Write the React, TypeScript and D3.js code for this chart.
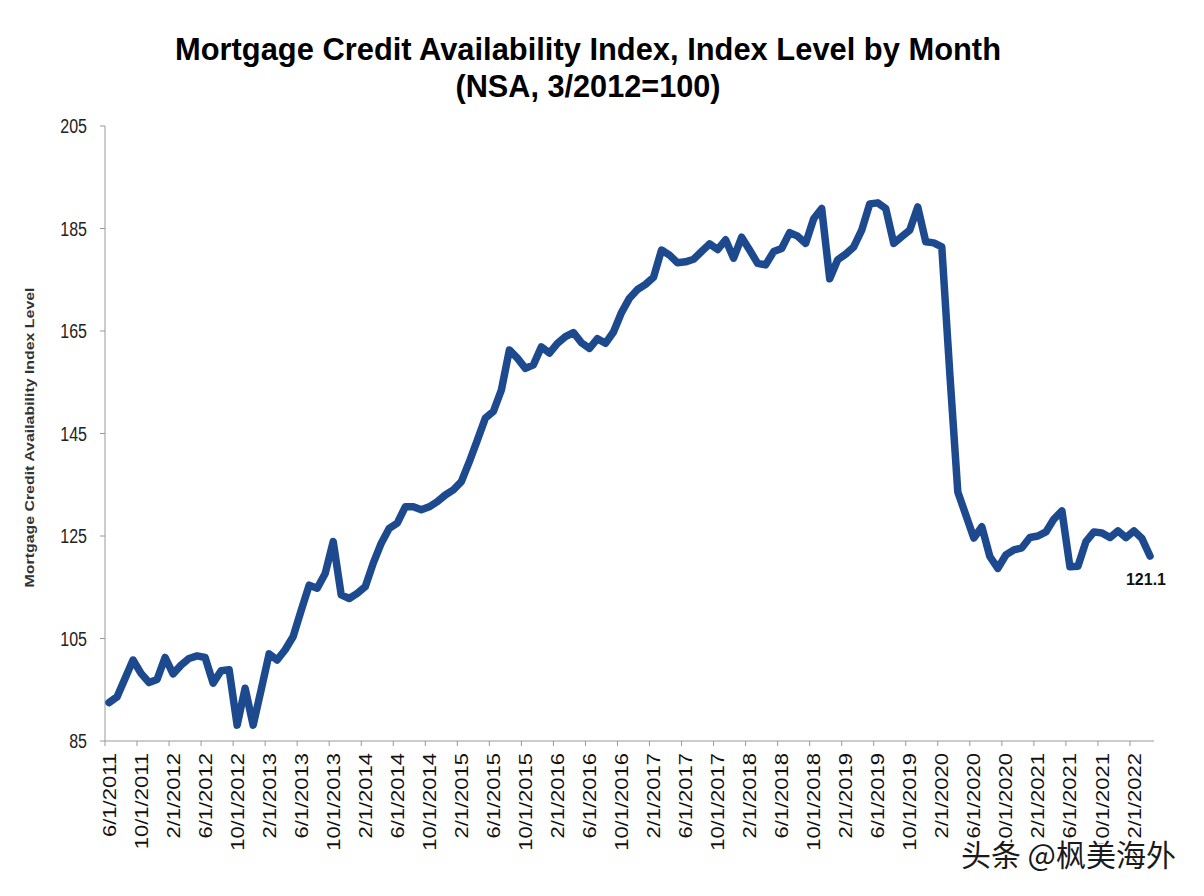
import React from "react";
import * as d3 from "d3";

const width = 1204;
const height = 896;
const margin = { top: 126, right: 50, bottom: 155, left: 105 };
const innerWidth = width - margin.left - margin.right;
const innerHeight = height - margin.top - margin.bottom;

// monthly index values, 6/2011 .. 4/2022
const mcai = [
  92.5, 93.6, 97.2, 100.8, 98.2, 96.4, 97.0, 101.3, 98.1, 99.8, 101.1, 101.6,
  101.3, 96.3, 98.7, 98.9, 88.1, 95.3, 88.1, 95.0, 102.0, 100.8, 102.8, 105.4,
  110.5, 115.4, 114.8, 117.7, 123.9, 113.5, 112.8, 113.8, 115.1, 119.7, 123.6, 126.5,
  127.5, 130.7, 130.7, 130.1, 130.7, 131.7, 133.0, 134.0, 135.6, 139.5, 143.7, 148.0,
  149.3, 153.5, 161.3, 159.7, 157.7, 158.4, 161.9, 160.7, 162.6, 163.9, 164.7, 162.7,
  161.6, 163.5, 162.6, 164.8, 168.6, 171.4, 173.1, 174.1, 175.5, 180.8, 179.8, 178.3,
  178.5, 179.0, 180.5, 182.0, 180.9, 182.8, 179.2, 183.3, 180.8, 178.2, 177.9, 180.5,
  181.1, 184.2, 183.5, 182.1, 186.9, 188.9, 175.2, 178.9, 180.0, 181.4, 184.7, 189.8,
  190.0, 188.9, 182.1, 183.4, 184.7, 189.2, 182.4, 182.2, 181.4, 156.7, 133.6, 129.1,
  124.6, 126.8, 121.0, 118.7, 121.3, 122.3, 122.7, 124.7, 125.0, 125.8, 128.3, 129.9,
  119.0, 119.1, 123.9, 125.8, 125.6, 124.7, 126.0, 124.7, 126.0, 124.5, 121.1,
];

const months = d3.timeMonth.range(new Date(2011, 5, 1), new Date(2022, 4, 1));
const fmtMonth = d3.timeFormat("%-m/1/%Y");

const yTicks = [85, 105, 125, 145, 165, 185, 205];
const lastLabel = "121.1";

const titleLines = [
  "Mortgage Credit Availability Index, Index Level by Month",
  "(NSA, 3/2012=100)",
];
const yAxisTitle = "Mortgage Credit Availability Index Level";

const App = () => {
  const xScale = d3
    .scaleBand<number>()
    .domain(mcai.map((d, i) => i))
    .range([0, innerWidth]);
  const yScale = d3.scaleLinear().domain([85, 205]).range([innerHeight, 0]);
  const cx = (i: number) => xScale(i)! + xScale.bandwidth() / 2;

  const line = d3
    .line<number>()
    .x((d, i) => cx(i))
    .y((d) => yScale(d));

  const labelIdx = months.map((m, i) => i).filter((i) => i % 4 === 0);
  const last = mcai.length - 1;
  const font = "'Liberation Sans', Arial, sans-serif";

  return (
    <svg
      width={width}
      height={height}
      style={{ position: "absolute", left: 0, top: 0, background: "#fff" }}
      fontFamily={font}
    >
      <text
        x={588}
        y={60}
        textAnchor="middle"
        fontSize={31}
        fontWeight="bold"
        textLength={826}
        lengthAdjust="spacingAndGlyphs"
      >
        {titleLines[0]}
      </text>
      <text
        x={588}
        y={97}
        textAnchor="middle"
        fontSize={31}
        fontWeight="bold"
        textLength={265}
        lengthAdjust="spacingAndGlyphs"
      >
        {titleLines[1]}
      </text>

      <text
        transform={`translate(34,${margin.top + innerHeight / 2 + 4}) rotate(-90)`}
        textAnchor="middle"
        fontSize={13}
        fontWeight="bold"
        fill="#333"
        textLength={300}
        lengthAdjust="spacingAndGlyphs"
      >
        {yAxisTitle}
      </text>

      <g transform={`translate(${margin.left},${margin.top})`}>
        <line x1={0} x2={0} y1={0} y2={innerHeight} stroke="#999" />
        <line x1={0} x2={innerWidth} y1={innerHeight} y2={innerHeight} stroke="#999" />
        {yTicks.map((t) => (
          <g key={t} transform={`translate(0,${yScale(t)})`}>
            <line x1={-5} x2={0} stroke="#999" />
            <text
              transform="translate(-18,0) scale(0.8,1)"
              dy="0.35em"
              textAnchor="end"
              fontSize={20}
              fill="#222"
            >
              {t}
            </text>
          </g>
        ))}
        {labelIdx.map((i) => (
          <g key={i}>
            <line
              x1={xScale(i)!}
              x2={xScale(i)!}
              y1={innerHeight}
              y2={innerHeight + 5}
              stroke="#999"
            />
            <text
              transform={`translate(${cx(i)},${innerHeight + 12}) rotate(-90) scale(1,0.85)`}
              dy="0.35em"
              textAnchor="end"
              fontSize={22}
              fill="#111"
            >
              {fmtMonth(months[i])}
            </text>
          </g>
        ))}
        <path
          d={line(mcai) || ""}
          fill="none"
          stroke="#1d4a8e"
          strokeWidth={7.5}
          strokeLinejoin="round"
          strokeLinecap="round"
        />
        <text
          x={cx(last) - 4}
          y={yScale(mcai[last]) + 29}
          textAnchor="middle"
          fontSize={16}
          fontWeight="bold"
          fill="#111"
        >
          {lastLabel}
        </text>
      </g>

      <text
        x={1176}
        y={866}
        textAnchor="end"
        fontSize={30}
        fontFamily="'Noto Sans CJK SC', sans-serif"
        fill="#1a1a1a"
        stroke="#fff"
        strokeWidth={3}
        paintOrder="stroke"
      >
        头条 @枫美海外
      </text>
    </svg>
  );
};

export default App;
